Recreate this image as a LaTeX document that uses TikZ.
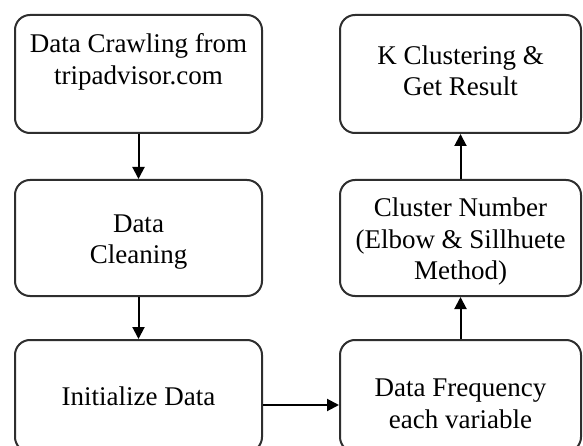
\documentclass[tikz,border=0pt]{standalone}
\usepackage{fontspec}
\setmainfont{Liberation Serif}
\usetikzlibrary{arrows.meta}
\definecolor{edge}{HTML}{2E2E2E}
\tikzset{
  box/.style={draw=edge, line width=2pt, rounded corners=15pt, fill=white},
  txt/.style={align=center, font=\fontsize{27}{31.5}\selectfont, inner sep=0pt},
  flow/.style={draw=black, line width=2pt, -{Triangle[length=12pt,width=12pt]}}
}
\begin{document}
\begin{tikzpicture}[x=1pt,y=-1pt]
\useasboundingbox (0,0) rectangle (583,446);
\clip (0,0) rectangle (583,446);
% boxes: left column
\node[box, minimum width=247pt, minimum height=118pt] (crawl) at (138.5,74) {};
\node[box, minimum width=247pt, minimum height=116pt] (clean) at (138.5,238) {};
\node[box, minimum width=247pt, minimum height=112pt] (init)  at (138.5,396) {};
% boxes: right column
\node[box, minimum width=241pt, minimum height=118pt] (kclus) at (460.5,74) {};
\node[box, minimum width=241pt, minimum height=116pt] (cnum)  at (460.5,238) {};
\node[box, minimum width=241pt, minimum height=112pt] (freq)  at (460.5,396) {};
% labels
\node[txt] at ([yshift=12pt]crawl.center) {Data Crawling from\\tripadvisor.com};
\node[txt] at ([yshift=-4pt]clean.center) {Data\\Cleaning};
\node[txt] at ([yshift=3pt]kclus.center) {K Clustering \&\\Get Result};
\node[txt] at ([yshift=-4pt]cnum.center) {Cluster Number\\(Elbow \& Sillhuete\\Method)};
\node[txt] at (init.center) {Initialize Data};
\node[txt] at ([yshift=-8pt]freq.center) {Data Frequency\\each variable};
% connectors
\draw[flow] (crawl.south) -- (clean.north);
\draw[flow] (clean.south) -- (init.north);
\draw[flow] ([yshift=-9pt]init.east) -- ([yshift=-9pt]freq.west);
\draw[flow] (freq.north) -- (cnum.south);
\draw[flow] (cnum.north) -- (kclus.south);
\end{tikzpicture}
\end{document}
